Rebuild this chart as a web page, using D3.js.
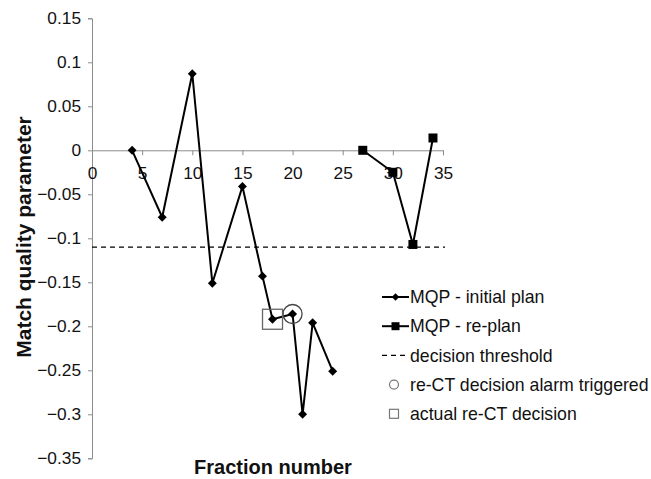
<!DOCTYPE html>
<html>
<head>
<meta charset="utf-8">
<script src="https://cdn.jsdelivr.net/npm/d3@7"></script>
<style>
  html, body { margin: 0; padding: 0; background: #fff; }
  svg { display: block; font-family: "Liberation Sans", Arial, sans-serif; }
</style>
</head>
<body>
<svg id="chart" width="651" height="479"></svg>
<script>
// Match quality parameter per treatment fraction
const initialFractions = [4, 7, 10, 12, 15, 17, 18, 20, 21, 22, 24];
const initialMQP = [0, -0.076, 0.087, -0.151, -0.041, -0.143, -0.192, -0.186, -0.300, -0.196, -0.251];
const replanFractions = [27, 30, 32, 34];
const replanMQP = [0, -0.025, -0.107, 0.014];
const threshold = -0.11;
const alarmFraction = 20;      // re-CT decision alarm triggered
const decisionFraction = 18;   // actual re-CT decision
const xTicks = [0, 5, 10, 15, 20, 25, 30, 35];
const yTicks = [0.15, 0.1, 0.05, 0, -0.05, -0.1, -0.15, -0.2, -0.25, -0.3, -0.35];
const legendLabels = ["MQP - initial plan", "MQP - re-plan", "decision threshold",
                      "re-CT decision alarm triggered", "actual re-CT decision"];

const svg = d3.select("#chart");
const x = d3.scaleLinear().domain([0, 35]).range([92, 443]);
const y = d3.scaleLinear().domain([-0.35, 0.15]).range([458.3, 18.3]);
const axisColor = "#8c8c8c";

// Y axis
const yAxis = svg.append("g")
  .attr("transform", `translate(${x(0)},0)`)
  .call(d3.axisLeft(y).tickValues(yTicks).tickSize(4).tickPadding(7)
    .tickFormat(d => d === 0 ? "0" : d3.format("")(+d.toFixed(2))));
yAxis.selectAll("path, line").attr("stroke", axisColor);
yAxis.selectAll("text").attr("font-size", 17.3).attr("fill", "#111")
  .attr("font-family", "Liberation Sans, Arial, sans-serif");

// X axis along zero
const xAxis = svg.append("g")
  .attr("transform", `translate(0,${y(0)})`)
  .call(d3.axisBottom(x).tickValues(xTicks).tickSize(5).tickPadding(11).tickSizeOuter(5));
xAxis.selectAll("path, line").attr("stroke", axisColor);
xAxis.selectAll("text").attr("font-size", 17.3).attr("fill", "#111")
  .attr("font-family", "Liberation Sans, Arial, sans-serif");

// Decision threshold
svg.append("line")
  .attr("x1", x(0)).attr("x2", x(35) + 2)
  .attr("y1", y(threshold)).attr("y2", y(threshold))
  .attr("stroke", "#000").attr("stroke-width", 1.4)
  .attr("stroke-dasharray", "5,4");

const line = d3.line().x(d => x(d[0])).y(d => y(d[1]));
const initialPts = initialFractions.map((f, i) => [f, initialMQP[i]]);
const replanPts = replanFractions.map((f, i) => [f, replanMQP[i]]);

svg.append("path").datum(initialPts).attr("d", line)
  .attr("fill", "none").attr("stroke", "#000").attr("stroke-width", 2);
svg.append("path").datum(replanPts).attr("d", line)
  .attr("fill", "none").attr("stroke", "#000").attr("stroke-width", 2);

// Diamond markers for the initial plan, squares for the re-plan
svg.append("g").selectAll("path").data(initialPts).join("path")
  .attr("transform", d => `translate(${x(d[0])},${y(d[1])}) rotate(45)`)
  .attr("d", d3.symbol().type(d3.symbolSquare).size(40))
  .attr("fill", "#000");
svg.append("g").selectAll("rect").data(replanPts).join("rect")
  .attr("x", d => x(d[0]) - 4.5).attr("y", d => y(d[1]) - 4.5)
  .attr("width", 9).attr("height", 9).attr("fill", "#000");

// Annotations: alarm circle and decision square
const alarmVal = initialMQP[initialFractions.indexOf(alarmFraction)];
const decisionVal = initialMQP[initialFractions.indexOf(decisionFraction)];
svg.append("circle")
  .attr("cx", x(alarmFraction)).attr("cy", y(alarmVal)).attr("r", 9.5)
  .attr("fill", "none").attr("stroke", "#444").attr("stroke-width", 1.3);
svg.append("rect")
  .attr("x", x(decisionFraction) - 10).attr("y", y(decisionVal) - 10)
  .attr("width", 20).attr("height", 20)
  .attr("fill", "none").attr("stroke", "#666").attr("stroke-width", 1.3);

// Axis titles
svg.append("text")
  .attr("x", 273).attr("y", 474)
  .attr("text-anchor", "middle").attr("font-size", 20).attr("font-weight", "bold")
  .attr("fill", "#111").text("Fraction number");
svg.append("text")
  .attr("transform", "translate(31,237) rotate(-90)")
  .attr("text-anchor", "middle").attr("font-size", 21).attr("font-weight", "bold")
  .attr("fill", "#111").text("Match quality parameter");

// Legend
const lx = 382, lw = 27, ly0 = 297, lstep = 29.2;
const legend = svg.append("g");
legendLabels.forEach((lab, i) => {
  const yy = ly0 + i * lstep;
  const cx = lx + lw / 2;
  if (i === 0 || i === 1) {
    legend.append("line").attr("x1", lx).attr("x2", lx + lw)
      .attr("y1", yy).attr("y2", yy).attr("stroke", "#000").attr("stroke-width", 2);
    if (i === 0) {
      legend.append("path")
        .attr("transform", `translate(${cx},${yy}) rotate(45)`)
        .attr("d", d3.symbol().type(d3.symbolSquare).size(28)).attr("fill", "#000");
    } else {
      legend.append("rect").attr("x", cx - 4).attr("y", yy - 4)
        .attr("width", 8).attr("height", 8).attr("fill", "#000");
    }
  } else if (i === 2) {
    legend.append("line").attr("x1", lx).attr("x2", lx + lw)
      .attr("y1", yy).attr("y2", yy).attr("stroke", "#000").attr("stroke-width", 1.4)
      .attr("stroke-dasharray", "5,4");
  } else if (i === 3) {
    legend.append("circle").attr("cx", cx - 1.5).attr("cy", yy).attr("r", 4.5)
      .attr("fill", "none").attr("stroke", "#777").attr("stroke-width", 1.2);
  } else {
    legend.append("rect").attr("x", cx - 6).attr("y", yy - 4.5)
      .attr("width", 9).attr("height", 9)
      .attr("fill", "none").attr("stroke", "#777").attr("stroke-width", 1.2);
  }
  legend.append("text").attr("x", lx + lw + 1).attr("y", yy).attr("dy", "0.35em")
    .attr("font-size", 17.7).attr("fill", "#111").text(lab);
});
</script>
</body>
</html>
